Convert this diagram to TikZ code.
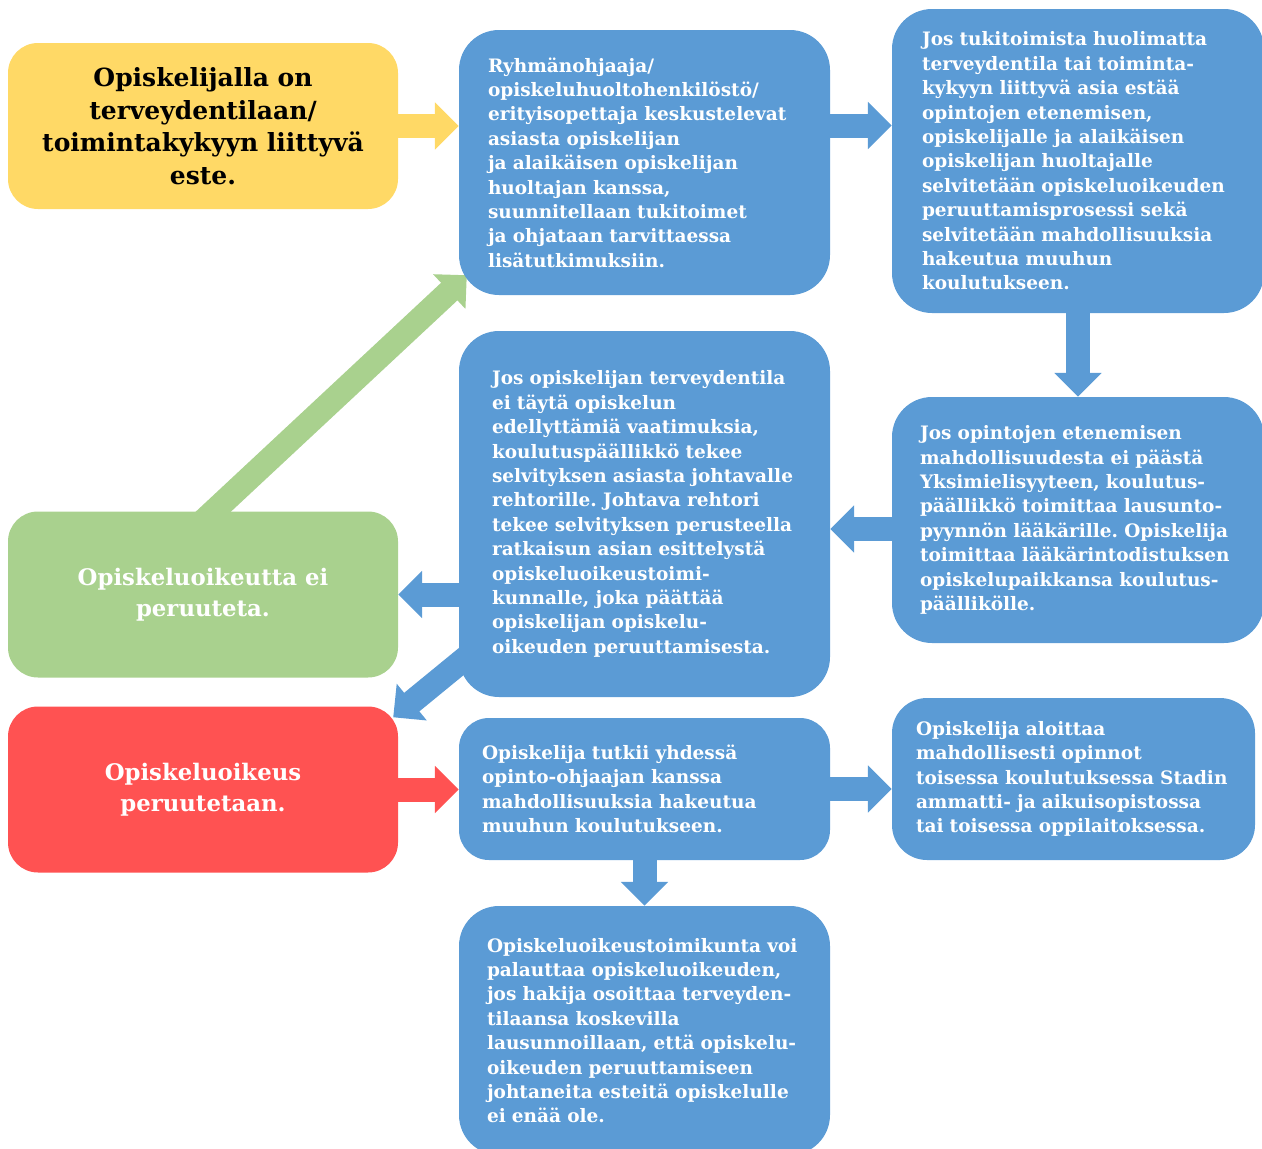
\documentclass[tikz,border=0pt]{standalone}
\usepackage{fontspec}
\usetikzlibrary{arrows.meta}
\usetikzlibrary{backgrounds}
\newfontfamily\boxserif{DejaVu Serif}
\definecolor{boxblue}{RGB}{91,155,213}
\definecolor{boxyellow}{RGB}{255,217,102}
\definecolor{boxgreen}{RGB}{169,209,142}
\definecolor{boxred}{RGB}{255,82,82}
\frenchspacing
\begin{document}
\begin{tikzpicture}[x=1pt,y=-1pt,
  box/.style={inner sep=0pt, align=center, rounded corners=30pt},
  bluebox/.style={box, fill=boxblue, text=white, align=left, rounded corners=40pt,
    font=\boxserif\bfseries\fontsize{18.5}{24.4}\selectfont},
  bigbox/.style={box, minimum width=390pt, minimum height=166pt,
    font=\boxserif\bfseries\fontsize{22.8}{30.5}\selectfont},
  blockarrow/.style={line width=24pt, -{Triangle[length=24pt,width=46pt]}}
]
\useasboundingbox (0,0) rectangle (1262,1149);

% left column
\node[bigbox, fill=boxyellow, text=black, font=\boxserif\bfseries\fontsize{25}{32.5}\selectfont] (este) at (203,126)
  {Opiskelijalla on\\ terveydentilaan/\\ toimintakykyyn liittyvä\\ este.};
\node[bigbox, fill=boxgreen, text=white] (eiperuta) at (203,594.5)
  {Opiskeluoikeutta ei\\ peruuteta.};
\node[bigbox, fill=boxred, text=white] (peruta) at (203,789.5)
  {Opiskeluoikeus\\ peruutetaan.};

% middle column
\node[bluebox, text width=313pt, minimum width=371pt, minimum height=265pt] (keskustelu) at (644.5,162.5)
  {Ryhmänohjaaja/\\ opiskeluhuoltohenkilöstö/\\ erityisopettaja keskustelevat\\ asiasta opiskelijan\\ ja alaikäisen opiskelijan\\ huoltajan kanssa,\\ suunnitellaan tukitoimet\\ ja ohjataan tarvittaessa\\ lisätutkimuksiin.};
\node[bluebox, text width=305pt, minimum width=371pt, minimum height=366pt] (selvitys) at (644.5,514)
  {Jos opiskelijan terveydentila\\ ei täytä opiskelun\\ edellyttämiä vaatimuksia,\\ koulutuspäällikkö tekee\\ selvityksen asiasta johtavalle\\ rehtorille. Johtava rehtori\\ tekee selvityksen perusteella\\ ratkaisun asian esittelystä\\ opiskeluoikeustoimi-\\ kunnalle, joka päättää\\ opiskelijan opiskelu-\\ oikeuden peruuttamisesta.};
\node[bluebox, text width=325pt, minimum width=371pt, minimum height=142pt, rounded corners=30pt] (ohjaus) at (644.5,789)
  {Opiskelija tutkii yhdessä\\ opinto-ohjaajan kanssa\\ mahdollisuuksia hakeutua\\ muuhun koulutukseen.};
\node[bluebox, text width=315pt, minimum width=371pt, minimum height=249pt] (palautus) at (644.5,1030.5)
  {Opiskeluoikeustoimikunta voi\\ palauttaa opiskeluoikeuden,\\ jos hakija osoittaa terveyden-\\ tilaansa koskevilla\\ lausunnoillaan, että opiskelu-\\ oikeuden peruuttamiseen\\ johtaneita esteitä opiskelulle\\ ei enää ole.};

% right column
\node[bluebox, text width=312pt, minimum width=372pt, minimum height=304pt] (prosessi) at (1078,161)
  {Jos tukitoimista huolimatta\\ terveydentila tai toiminta-\\ kykyyn liittyvä asia estää\\ opintojen etenemisen,\\ opiskelijalle ja alaikäisen\\ opiskelijan huoltajalle\\ selvitetään opiskeluoikeuden\\ peruuttamisprosessi sekä\\ selvitetään mahdollisuuksia\\ hakeutua muuhun\\ koulutukseen.};
\node[bluebox, text width=316pt, minimum width=372pt, minimum height=246pt] (laakari) at (1078,520)
  {Jos opintojen etenemisen\\ mahdollisuudesta ei päästä\\ Yksimielisyyteen, koulutus-\\ päällikkö toimittaa lausunto-\\ pyynnön lääkärille. Opiskelija\\ toimittaa lääkärintodistuksen\\ opiskelupaikkansa koulutus-\\ päällikölle.};
\node[bluebox, text width=315pt, minimum width=363pt, minimum height=162pt, rounded corners=35pt] (uusi) at (1073.5,779)
  {Opiskelija aloittaa\\ mahdollisesti opinnot\\ toisessa koulutuksessa Stadin\\ ammatti- ja aikuisopistossa\\ tai toisessa oppilaitoksessa.};

% arrows
\coordinate (k2p) at ([yshift=37pt]keskustelu.east);
\coordinate (l2s) at ([yshift=-9pt]laakari.west);
\begin{scope}[on background layer]
\draw[blockarrow, boxyellow] (este.east) -- (este.east -| keskustelu.west);
\draw[blockarrow, boxblue] (k2p) -- (k2p -| prosessi.west);
\draw[blockarrow, boxblue] (prosessi.south) -- (laakari.north);
\draw[blockarrow, boxblue] (l2s) -- (l2s -| selvitys.east);
\draw[blockarrow, boxblue] (selvitys.west |- eiperuta.east) -- (eiperuta.east);
\draw[blockarrow, boxblue] ([shift={(20pt,50pt)}]selvitys.south west) -- ([shift={(-5pt,-11pt)}]peruta.north east);
\draw[blockarrow, boxgreen] ([yshift=-10pt]eiperuta.north) -- ([shift={(8pt,20pt)}]keskustelu.south west);
\draw[blockarrow, boxred] (peruta.east) -- (peruta.east -| ohjaus.west);
\draw[blockarrow, boxblue] (ohjaus.east) -- (ohjaus.east -| uusi.west);
\draw[blockarrow, boxblue] (ohjaus.south) -- (palautus.north);
\end{scope}
\end{tikzpicture}
\end{document}
